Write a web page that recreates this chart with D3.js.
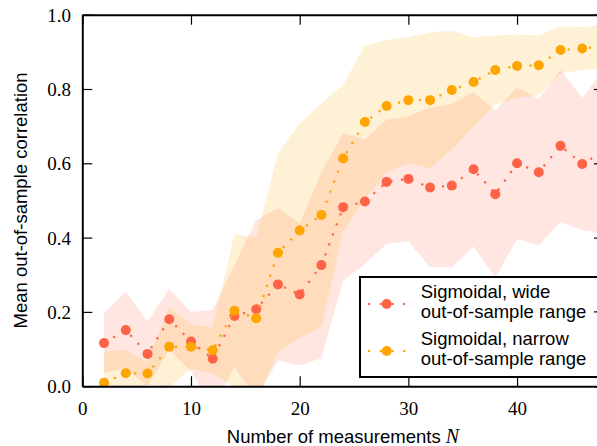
<!DOCTYPE html>
<html>
<head>
<meta charset="utf-8">
<script src="https://cdn.jsdelivr.net/npm/d3@7"></script>
<style>
  html, body { margin: 0; padding: 0; background: #fff; }
  svg { display: block; }
</style>
</head>
<body>
<svg id="chart" width="597" height="446"></svg>
<script>
// ---- data ----
const nValues = [2,4,6,8,10,12,14,16,18,20,22,24,26,28,30,32,34,36,38,40,42,44,46,48];
const wideMean = [0.116,0.151,0.087,0.180,0.120,0.074,0.189,0.207,0.274,0.247,0.326,0.482,0.497,0.550,0.558,0.535,0.540,0.584,0.517,0.600,0.576,0.647,0.598,0.633];
const wideSD   = [0.080,0.103,0.087,0.082,0.080,0.131,0.137,0.240,0.205,0.191,0.250,0.199,0.168,0.167,0.168,0.215,0.220,0.208,0.225,0.204,0.197,0.205,0.178,0.220];
const narrowMean = [0.009,0.035,0.034,0.106,0.106,0.097,0.203,0.183,0.359,0.419,0.461,0.613,0.711,0.754,0.770,0.770,0.797,0.819,0.851,0.862,0.864,0.905,0.909,0.915];
const narrowSD   = [0.084,0.063,0.030,0.108,0.060,0.062,0.207,0.217,0.268,0.289,0.300,0.198,0.207,0.178,0.170,0.183,0.160,0.120,0.093,0.085,0.080,0.063,0.058,0.060];
const xTicks = [0,10,20,30,40];
const yTicks = [0.0,0.2,0.4,0.6,0.8,1.0];
const seriesNames = ["Sigmoidal, wide|out-of-sample range", "Sigmoidal, narrow|out-of-sample range"];
const seriesColors = ["#ff6347", "#ffa500"];

// ---- layout ----
const svg = d3.select("#chart");
const L = 82.3, R = 604, T = 14.7, B = 386.2;
const x = d3.scaleLinear().domain([0,48]).range([L, R]);
const y = d3.scaleLinear().domain([0,1]).range([B, T]);

svg.append("defs").append("clipPath").attr("id","plotclip")
  .append("rect").attr("x",L).attr("y",T).attr("width",R-L).attr("height",B-T);

const series = [
  {mean: wideMean, sd: wideSD, color: seriesColors[0]},
  {mean: narrowMean, sd: narrowSD, color: seriesColors[1]}
].map(s => ({...s, pts: nValues.map((n,i) => ({n, m: s.mean[i], s: s.sd[i]}))}));

const plot = svg.append("g").attr("clip-path","url(#plotclip)");

const area = d3.area()
  .x(d => x(d.n))
  .y0(d => y(d.m - d.s))
  .y1(d => y(d.m + d.s));

series.forEach(s => {
  plot.append("path").datum(s.pts)
    .attr("d", area)
    .attr("fill", s.color)
    .attr("fill-opacity", 0.16)
    .attr("stroke", "none");
});

const line = d3.line().x(d => x(d.n)).y(d => y(d.m));
const DASH = "2.2,8.5";
series.forEach(s => {
  plot.append("path").datum(s.pts)
    .attr("d", line)
    .attr("fill","none")
    .attr("stroke", s.color)
    .attr("stroke-width", 2.2)
    .attr("stroke-dasharray", DASH);
  plot.selectAll(null).data(s.pts).enter().append("circle")
    .attr("cx", d => x(d.n))
    .attr("cy", d => y(d.m))
    .attr("r", 5)
    .attr("fill", s.color);
});

// ---- axes ----
const tickFont = "'Liberation Serif', 'Times New Roman', serif";
const sansFont = "'Liberation Sans', Arial, Helvetica, sans-serif";

function styleAxis(g, labels) {
  g.select(".domain").attr("stroke","#000").attr("stroke-width",2);
  g.selectAll(".tick line").attr("stroke","#000").attr("stroke-width",1.2);
  g.selectAll(".tick text").attr("fill","#000")
    .style("font-family", tickFont).style("font-size","19px");
  if (!labels) g.selectAll(".tick text").remove();
}

const xAxisB = d3.axisBottom(x).tickValues(xTicks).tickSizeInner(-10).tickSizeOuter(0)
  .tickPadding(18).tickFormat(d3.format("d"));
const gxb = svg.append("g").attr("transform",`translate(0,${B})`).call(xAxisB);
styleAxis(gxb, true);
gxb.selectAll(".tick text").attr("dy", null).attr("y", 29.3);

const xAxisT = d3.axisTop(x).tickValues(xTicks).tickSizeInner(-10).tickSizeOuter(0);
const gxt = svg.append("g").attr("transform",`translate(0,${T})`).call(xAxisT);
styleAxis(gxt, false);

const yAxisL = d3.axisLeft(y).tickValues(yTicks).tickSizeInner(-10).tickSizeOuter(0)
  .tickPadding(21).tickFormat(d3.format(".1f"));
const gyl = svg.append("g").attr("transform",`translate(${L},0)`).call(yAxisL);
styleAxis(gyl, true);
gyl.selectAll(".tick text").attr("dy", null).attr("y", 6.6).attr("x", -11.3);

const yAxisR = d3.axisRight(y).tickValues(yTicks).tickSizeInner(-10).tickSizeOuter(0);
const gyr = svg.append("g").attr("transform",`translate(${R},0)`).call(yAxisR);
styleAxis(gyr, false);

// ---- axis titles ----
const xt = svg.append("text")
  .attr("x", (225 + 461) / 2).attr("y", 443)
  .attr("text-anchor","middle")
  .style("font-family", sansFont).style("font-size","18.5px").attr("fill","#000");
xt.append("tspan").text("Number of measurements ");
xt.append("tspan").text("N").style("font-family", tickFont).style("font-style","italic").style("font-size","20px");

svg.append("text")
  .attr("transform", `translate(27,${(T+B)/2}) rotate(-90)`)
  .attr("text-anchor","middle")
  .style("font-family", sansFont).style("font-size","18.5px").attr("fill","#000")
  .text("Mean out-of-sample correlation");

// ---- legend ----
const leg = svg.append("g");
leg.append("rect").attr("x",360).attr("y",277).attr("width",260).attr("height",100)
  .attr("fill","#fff").attr("stroke","#000").attr("stroke-width",2);
const rowY = [304, 351];
seriesNames.forEach((name, i) => {
  const yy = rowY[i];
  leg.append("line").attr("x1",364).attr("x2",410).attr("y1",yy).attr("y2",yy)
    .attr("stroke", seriesColors[i]).attr("stroke-width",2.2).attr("stroke-dasharray", "2.2,9.5")
    .attr("stroke-dashoffset", -4);
  leg.append("circle").attr("cx",386.7).attr("cy",yy).attr("r",5).attr("fill",seriesColors[i]);
  const parts = name.split("|");
  const t = leg.append("text").attr("x",420.7).attr("y", yy - 5.7)
    .style("font-family", sansFont).style("font-size","18.5px").attr("fill","#000");
  t.append("tspan").attr("x",420.7).text(parts[0]);
  t.append("tspan").attr("x",420.7).attr("dy",20).text(parts[1]);
});
// right-side tick that shows over the legend
leg.append("line").attr("x1", R-10).attr("x2", R).attr("y1", y(0.2)).attr("y2", y(0.2))
  .attr("stroke","#000").attr("stroke-width",1.2);
</script>
</body>
</html>
